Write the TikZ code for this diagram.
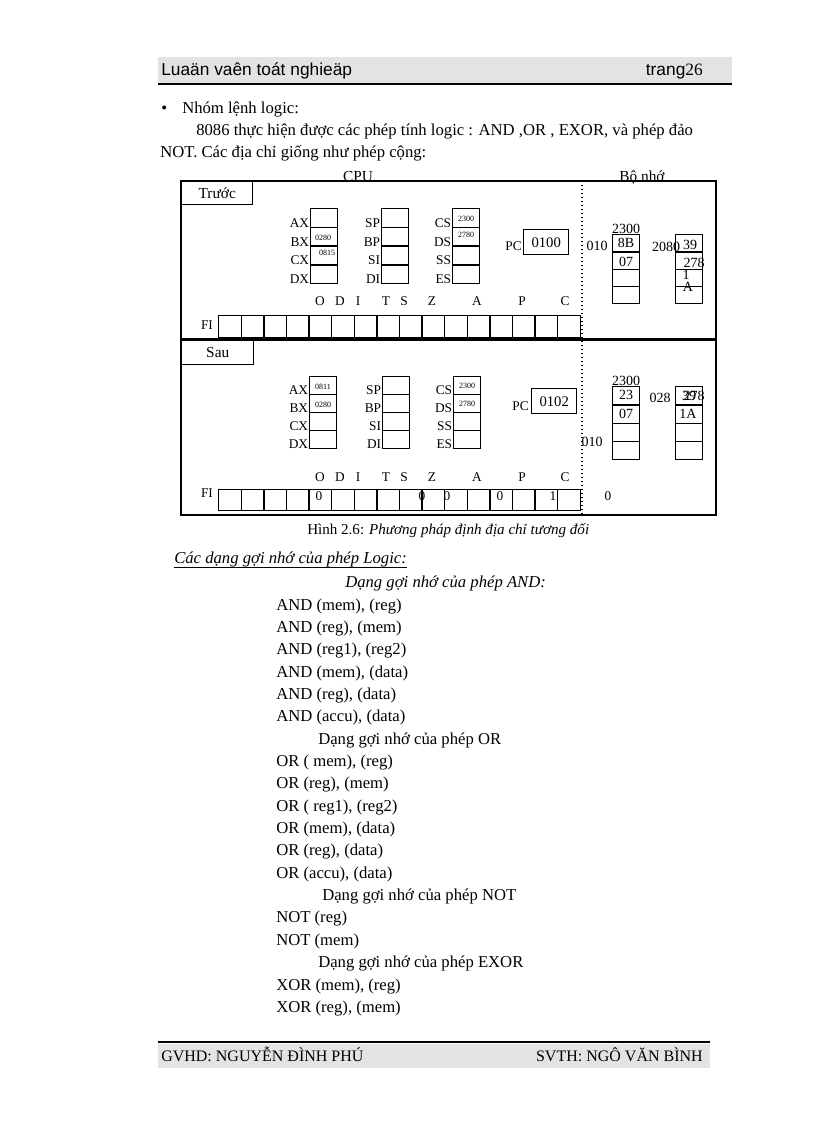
\documentclass[tikz,border=0pt]{standalone}
\usepackage{fontspec}
\setmainfont{Liberation Serif}
\newfontfamily\headfont{Liberation Sans}

\begin{document}
\begin{tikzpicture}[x=0.75pt, y=-0.75pt,
	regbox/.style={draw, line width=1pt, anchor=north west, inner sep=0pt, minimum width=20.25pt, minimum height=14pt},
	flagbox/.style={draw, line width=1pt, anchor=north west, inner sep=0pt, minimum width=16.95pt, minimum height=16.5pt},
	pcbox/.style={draw, line width=1.1pt, anchor=north west, inner sep=0pt, minimum width=33.75pt, minimum height=18.75pt, font=\fontsize{11}{13}\selectfont},
	body/.style={anchor=base west, inner sep=0pt, font=\fontsize{12.5}{14}\selectfont},
	lbl/.style={inner sep=0pt, font=\fontsize{10}{12}\selectfont},
	regname/.style={lbl, anchor=base east},
	val/.style={inner sep=0pt, font=\fontsize{6}{7}\selectfont},
	memval/.style={inner sep=0pt, font=\fontsize{10.5}{12}\selectfont}]
	\useasboundingbox (0,0) rectangle (816,1123);
	% Header and footer:
	\fill[gray!22] (158,57) rectangle (732,83);
	\draw[line width=2.2pt] (158,84) -- (732,84);
	\node[anchor=base west, inner sep=0pt, font=\headfont\fontsize{13}{15}\selectfont] (title) at (161,76) {Luaän vaên toát nghieäp};
	\node[anchor=base east, inner sep=0pt, font=\fontsize{13}{15}\selectfont] (page) at (703,76) {{\headfont trang}26};
	\draw[line width=2.2pt] (158,1042) -- (710,1042);
	\fill[gray!22] (158,1044) rectangle (710,1068);
	\node[body, anchor=base west, font=\fontsize{12}{14}\selectfont] (gvhd) at (161,1061) {GVHD: NGUYỄN ĐÌNH PHÚ};
	\node[body, anchor=base east, font=\fontsize{12}{14}\selectfont] (svth) at (703,1061) {SVTH: NGÔ VĂN BÌNH};
	% Text above the figure:
	\node[body] (bullet) at (161,114) {\textbullet};
	\node[body] (p1) at (182,114) {Nhóm lệnh logic:};
	\node[body] (p2) at (196,136) {8086 thực hiện được các phép tính logic : AND ,OR , EXOR, và phép đảo};
	\node[body] (p3) at (160,158) {NOT. Các địa chỉ giống như phép cộng:};
	\node[body, anchor=base, font=\fontsize{11.5}{13}\selectfont] (cpu) at (358,182) {CPU};
	\node[body, anchor=base, font=\fontsize{11.5}{13}\selectfont] (bonho) at (642,182) {Bộ nhớ};
	% Frame:
	\draw[line width=1.1pt] (181,181) rectangle (716,515);
	\draw[line width=2pt] (181,339.5) -- (716,339.5);
	\draw[dotted, line width=1pt] (582,181) -- (582,515);
	\node[draw, line width=1.1pt, anchor=north west, minimum width=53.25pt, minimum height=17.25pt, inner sep=0pt, font=\fontsize{11.5}{13}\selectfont] (truoc) at (181,181) {Trước};
	\node[draw, line width=1.1pt, anchor=north west, minimum width=54pt, minimum height=18pt, inner sep=0pt, font=\fontsize{11.5}{13}\selectfont] (sau) at (181,340) {Sau};
	% Registers, before:
	\foreach \r/\n [count=\k from 0] in {ax/AX,bx/BX,cx/CX,dx/DX}{
		\node[regbox] (t\r) at (310,{208+18.75*\k}) {};
		\node[regname] (t\r l) at ([xshift=-0.5pt,yshift=0.5pt]t\r.south west) {\n};
	}
	\foreach \r/\n [count=\k from 0] in {sp/SP,bp/BP,si/SI,di/DI}{
		\node[regbox] (t\r) at (381,{208+18.75*\k}) {};
		\node[regname] (t\r l) at ([xshift=-0.5pt,yshift=0.5pt]t\r.south west) {\n};
	}
	\foreach \r/\n [count=\k from 0] in {cs/CS,ds/DS,ss/SS,es/ES}{
		\node[regbox] (t\r) at (452,{208+18.75*\k}) {};
		\node[regname] (t\r l) at ([xshift=-0.5pt,yshift=0.5pt]t\r.south west) {\n};
	}
	\node[val] (tbxv) at (323,238) {0280};
	\node[val] (tcxv) at (327,253) {0815};
	\node[val] (tcsv) at (466,219) {2300};
	\node[val] (tdsv) at (466,235) {2780};
	\node[pcbox] (tpc) at (523,229) {0100};
	\node[lbl, anchor=base east] (tpcl) at (522,250) {PC};
	% Flags, before:
	\foreach \f/\x in {O/320,D/340,I/358,T/386,S/404,Z/432,A/477,P/522,C/565}
		\node[lbl] (tfl\f) at (\x,301) {\f};
	\node[lbl] (tfi) at (207,325) {FI};
	\foreach \i in {0,...,15}
		\node[flagbox] (tf\i) at ({218+22.6*\i},315) {};
	% Memory, before:
	\foreach \k in {0,...,3}{
		\node[regbox, minimum height=12.95pt] (tma\k) at (612,{234+17.25*\k}) {};
		\node[regbox, minimum height=12.95pt] (tmb\k) at (675,{234+17.25*\k}) {};
	}
	\node[memval] (tm2300) at (626,229) {2300};
	\node[memval] (tm010) at (597,246) {010};
	\node[memval] (tm8b) at (626,243) {8B};
	\node[memval] (tm07) at (626,262) {07};
	\node[memval] (tm2080) at (666,247) {2080};
	\node[memval] (tm39) at (690,245) {39};
	\node[memval] (tm278) at (694,263) {278};
	\node[memval] (tm1) at (686,275) {1};
	\node[memval] (tma) at (688,287) {A};
	% Registers, after:
	\foreach \r/\n [count=\k from 0] in {ax/AX,bx/BX,cx/CX,dx/DX}{
		\node[regbox, minimum height=13.5pt] (s\r) at (309,{376+18*\k}) {};
		\node[regname] (s\r l) at ([xshift=-0.5pt,yshift=0.5pt]s\r.south west) {\n};
	}
	\foreach \r/\n [count=\k from 0] in {sp/SP,bp/BP,si/SI,di/DI}{
		\node[regbox, minimum height=13.5pt] (s\r) at (382,{376+18*\k}) {};
		\node[regname] (s\r l) at ([xshift=-0.5pt,yshift=0.5pt]s\r.south west) {\n};
	}
	\foreach \r/\n [count=\k from 0] in {cs/CS,ds/DS,ss/SS,es/ES}{
		\node[regbox, minimum height=13.5pt] (s\r) at (453,{376+18*\k}) {};
		\node[regname] (s\r l) at ([xshift=-0.5pt,yshift=0.5pt]s\r.south west) {\n};
	}
	\node[val] (saxv) at (323,387) {0811};
	\node[val] (sbxv) at (323,405) {0280};
	\node[val] (scsv) at (467,386) {2300};
	\node[val] (sdsv) at (467,404) {2780};
	\node[pcbox] (spc) at (531,388) {0102};
	\node[lbl, anchor=base east] (spcl) at (529,410) {PC};
	% Flags, after:
	\foreach \f/\x in {O/320,D/340,I/358,T/386,S/404,Z/432,A/477,P/522,C/565}
		\node[lbl] (sfl\f) at (\x,477) {\f};
	\node[lbl] (sfi) at (207,493) {FI};
	\foreach \i in {0,...,15}
		\node[flagbox, minimum height=15.75pt] (sf\i) at ({218+22.6*\i},489) {};
	\foreach \v/\x [count=\k] in {0/319,0/422,0/447,0/500,1/553,0/608}
		\node[lbl] (sfv\k) at (\x,496) {\v};
	% Memory, after:
	\foreach \k in {0,...,3}{
		\node[regbox, minimum height=13.7pt] (sma\k) at (612,{386+18.25*\k}) {};
		\node[regbox, minimum height=13.7pt] (smb\k) at (675,{386+18.25*\k}) {};
	}
	\node[memval] (sm2300) at (626,381) {2300};
	\node[memval] (sm23) at (626,395) {23};
	\node[memval] (sm07) at (626,414) {07};
	\node[memval] (sm010) at (592,442) {010};
	\node[memval] (sm028) at (660,398) {028};
	\node[memval] (sm39) at (689,396) {39};
	\node[memval] (sm278) at (694,396) {278};
	\node[memval] (sm1a) at (688,414) {1A};
	% Caption and list:
	\node[body, font=\fontsize{11.3}{13}\selectfont] (cap) at (307,534) {Hình 2.6: \textit{Phương pháp định địa chỉ tương đối}};
	\node[body] (head) at (174,563) {\textit{Các dạng gợi nhớ của phép Logic:}};
	\draw[line width=0.6pt] ([yshift=-3pt]head.base west) -- ([yshift=-3pt]head.base east);
	\node[body] (hand) at (345,587) {\textit{Dạng gợi nhớ của phép AND:}};
	\node[body] (l1) at (276,610) {AND (mem), (reg)};
	\node[body] (l2) at (276,632.4) {AND (reg), (mem)};
	\node[body] (l3) at (276,654.7) {AND (reg1), (reg2)};
	\node[body] (l4) at (276,677) {AND (mem), (data)};
	\node[body] (l5) at (276,699.4) {AND (reg), (data)};
	\node[body] (l6) at (276,721.8) {AND (accu), (data)};
	\node[body] (l7) at (318,744.1) {Dạng gợi nhớ của phép OR};
	\node[body] (l8) at (276,766.5) {OR ( mem), (reg)};
	\node[body] (l9) at (276,788.8) {OR (reg), (mem)};
	\node[body] (l10) at (276,811.2) {OR ( reg1), (reg2)};
	\node[body] (l11) at (276,833.5) {OR (mem), (data)};
	\node[body] (l12) at (276,855.9) {OR (reg), (data)};
	\node[body] (l13) at (276,878.2) {OR (accu), (data)};
	\node[body] (l14) at (322,900.6) {Dạng gợi nhớ của phép NOT};
	\node[body] (l15) at (276,922.9) {NOT (reg)};
	\node[body] (l16) at (276,945.3) {NOT (mem)};
	\node[body] (l17) at (318,967.6) {Dạng gợi nhớ của phép EXOR};
	\node[body] (l18) at (276,990) {XOR (mem), (reg)};
	\node[body] (l19) at (276,1012.3) {XOR (reg), (mem)};
\end{tikzpicture}
\end{document}
